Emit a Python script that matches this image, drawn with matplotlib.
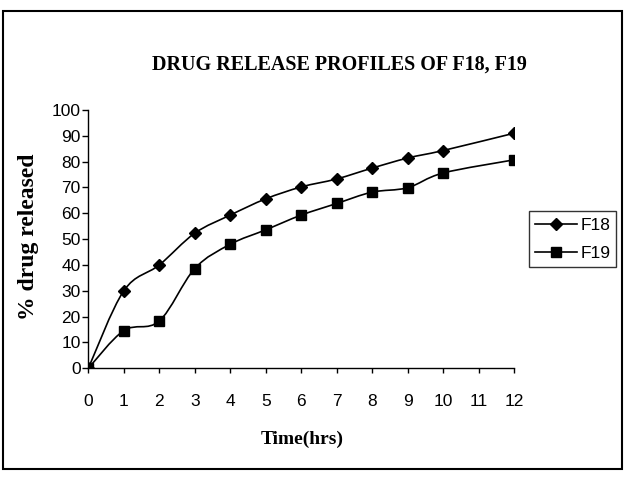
import matplotlib

matplotlib.use("Agg")
import matplotlib.pyplot as plt
import numpy as np
from matplotlib.path import Path
from matplotlib.patches import PathPatch, Rectangle

TIME = [0, 1, 2, 3, 4, 5, 6, 7, 8, 9, 10, 12]
F18 = [0, 30.0, 40.0, 52.3, 59.3, 65.6, 70.2, 73.3, 77.5, 81.4, 84.3, 91.0]
F19 = [0, 14.6, 18.3, 38.6, 48.0, 53.6, 59.3, 63.8, 68.2, 69.9, 75.6, 80.7]
XTICKS = list(range(0, 13))
YTICKS = list(range(0, 101, 10))

SANS = ["Liberation Sans Narrow", "Liberation Sans", "DejaVu Sans"]
SERIF = ["Liberation Serif", "DejaVu Serif"]


def smooth_path(x, y):
    # Excel-style smoothed line: cubic Bezier with Catmull-Rom tangents
    p = np.column_stack([x, y]).astype(float)
    n = len(p)
    verts = [p[0]]
    codes = [Path.MOVETO]
    for i in range(n - 1):
        p0 = p[i - 1] if i > 0 else p[i]
        p3 = p[i + 2] if i + 2 < n else p[i + 1]
        c1 = p[i] + (p[i + 1] - p0) / 6
        c2 = p[i + 1] - (p3 - p[i]) / 6
        verts += [c1, c2, p[i + 1]]
        codes += [Path.CURVE4] * 3
    return Path(verts, codes)


fig = plt.figure(figsize=(6.29, 4.78), dpi=100)
ax = fig.add_axes([0.1404, 0.2295, 0.6768, 0.5404])

for ys, mk, ms, lab in [(F18, "D", 6, "F18"), (F19, "s", 6.5, "F19")]:
    ax.add_patch(PathPatch(smooth_path(TIME, ys), fill=False, ec="black", lw=1.2))
    ax.plot(TIME, ys, ls="none", marker=mk, ms=ms, color="black")
    ax.plot([], [], color="black", lw=1.2, marker=mk, ms=ms, label=lab)

ax.set_xlim(0, 12)
ax.set_ylim(0, 100)
ax.set_xticks(XTICKS)
ax.set_yticks(YTICKS)
for s in ["top", "right"]:
    ax.spines[s].set_visible(False)
for s in ["left", "bottom"]:
    ax.spines[s].set_linewidth(1.0)
ax.tick_params(axis="y", direction="out", length=4, width=1, pad=1.5)
ax.tick_params(axis="x", direction="out", length=3.5, width=1, pad=15)
for t in ax.get_xticklabels() + ax.get_yticklabels():
    t.set_family(SANS)
    t.set_fontsize(12.5)

leg = ax.legend(loc="center left", bbox_to_anchor=(1.035, 0.5), frameon=True,
                fancybox=False, edgecolor="black", prop={"family": SANS, "size": 12.5},
                handlelength=2.4, handletextpad=0.2, borderpad=0.35, labelspacing=0.75,
                borderaxespad=0)
leg.get_frame().set_linewidth(1.0)

fig.text(0.539, 0.864, "DRUG RELEASE PROFILES OF F18, F19", ha="center", va="center",
         family=SERIF, fontweight="bold", fontsize=14.5)
fig.text(0.48, 0.08, "Time(hrs)", ha="center", va="center",
         family=SERIF, fontweight="bold", fontsize=14)
fig.text(0.045, 0.504, "% drug released", ha="center", va="center", rotation=90,
         family=SERIF, fontweight="bold", fontsize=17)

fig.patches.append(Rectangle((0.004, 0.018), 0.985, 0.96, transform=fig.transFigure,
                             fill=False, ec="black", lw=1.5))

fig.savefig("out.png", dpi=100)
